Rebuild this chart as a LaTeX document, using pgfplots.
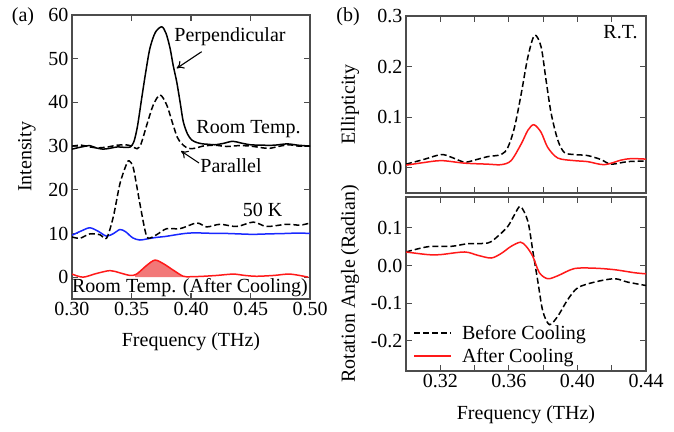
\documentclass[border=0pt]{standalone}
\usepackage{fontspec}
\setmainfont{Liberation Serif}
\usepackage{pgfplots}
\pgfplotsset{compat=1.18}
\usetikzlibrary{arrows.meta}
\definecolor{myred}{RGB}{255,25,25}
\definecolor{myblue}{RGB}{25,40,255}
\definecolor{myfill}{RGB}{242,120,120}
\newcommand{\fs}{\rmfamily\fontsize{20}{24}\selectfont}
\tikzset{ln/.style={line width=1.5pt}, dsh/.style={line width=1.5pt, dash pattern=on 6pt off 3pt}}
\pgfplotsset{myaxis/.style={
  scale only axis,
  axis line style={black!70, line width=1.1pt},
  every tick/.style={black!70, line width=1.1pt},
  tick align=inside,
  major tick length=6pt, minor tick length=6pt,
  tick label style={font=\fs},
  label style={font=\fs},
  /pgf/number format/assume math mode=true,
}}
\begin{document}
\begin{tikzpicture}[font=\fs]
\path[use as bounding box] (0,0) rectangle (674pt,431pt);
% ---------------- panel (a)
\begin{axis}[myaxis,
  at={(72pt,132pt)}, anchor=south west, width=238pt, height=284pt,
  xmin=0.30, xmax=0.50, ymin=-5, ymax=60,
  xtick={0.30,0.35,0.40,0.45,0.50}, ytick={0,10,20,30,40,50,60},
  xticklabel style={/pgf/number format/.cd, fixed, fixed zerofill, precision=2},
  every axis y label/.style={at={(axis description cs:-0.189,0.5)}, rotate=90, anchor=center},
  every axis x label/.style={at={(axis description cs:0.5,-0.151)}, anchor=center},
  xlabel={Frequency (THz)}, ylabel={Intensity},
]
\addplot[myfill, fill=myfill, draw=none] coordinates {(0.353,0) (0.353,0.6) (0.3543,0.7) (0.358,1.4) (0.3628,2.7) (0.366,3.5) (0.3697,3.9) (0.373,3.7) (0.3767,3.1) (0.381,2.3) (0.3851,1.6) (0.389,0.9) (0.3935,0.2) (0.3935,0)};
\addplot[black, ln, smooth] coordinates {(0.300,29.3) (0.308,29.8) (0.315,30.1) (0.320,29.6) (0.326,29.3) (0.332,29.5) (0.338,29.8) (0.345,29.7) (0.349,29.8) (0.352,31.0) (0.355,34.5) (0.3586,41) (0.362,47) (0.3655,52.4) (0.370,56) (0.3754,57.3) (0.379,55.8) (0.3824,52.4) (0.385,48.5) (0.388,44.7) (0.391,39.8) (0.3935,35.6) (0.397,32.8) (0.4006,31.4) (0.405,30.8) (0.410,30.5) (0.415,30.4) (0.420,30.3) (0.427,30.6) (0.435,31.1) (0.442,30.7) (0.450,30.3) (0.460,30.2) (0.470,30.2) (0.4807,30.5) (0.490,30.2) (0.500,30.0)};
\addplot[black, dsh, smooth] coordinates {(0.300,30.0) (0.308,30.2) (0.315,29.8) (0.322,29.6) (0.330,29.8) (0.338,30.2) (0.345,30.3) (0.350,30.0) (0.3546,29.4) (0.358,30.5) (0.3628,34.8) (0.3683,39.4) (0.374,41.7) (0.3796,39.4) (0.385,34.8) (0.3885,32.0) (0.392,30.6) (0.396,29.7) (0.400,29.4) (0.405,29.6) (0.410,30.0) (0.420,30.2) (0.430,29.9) (0.440,30.1) (0.450,30.0) (0.460,29.6) (0.4664,29.5) (0.475,30.0) (0.483,30.3) (0.490,30.0) (0.500,30.0)};
\addplot[myblue, ln, smooth] coordinates {(0.300,9.6) (0.308,10.6) (0.315,11.3) (0.322,10.5) (0.329,9.4) (0.335,10.0) (0.3403,10.9) (0.345,10.4) (0.351,9.0) (0.357,8.5) (0.364,8.8) (0.371,9.1) (0.378,9.3) (0.385,9.6) (0.392,9.9) (0.399,10.1) (0.410,10.1) (0.420,10.0) (0.430,10.0) (0.440,9.9) (0.452,9.8) (0.465,9.9) (0.480,10.0) (0.490,10.1) (0.500,10.0)};
\addplot[black, dsh, smooth] coordinates {(0.300,9.2) (0.3067,8.9) (0.315,9.9) (0.3235,9.7) (0.329,8.9) (0.3347,13.8) (0.3403,21.4) (0.346,26.0) (0.3482,26.6) (0.351,25.5) (0.353,23.0) (0.357,16.9) (0.3613,10.8) (0.364,8.9) (0.371,9.7) (0.3796,11.1) (0.3908,11.1) (0.4048,12.4) (0.4132,11.5) (0.4244,12.1) (0.4384,11.6) (0.4524,12.6) (0.4636,11.6) (0.4804,12.1) (0.4916,11.9) (0.500,12.4)};
\addplot[myred, ln, smooth] coordinates {(0.300,0.7) (0.3092,0.0) (0.320,0.8) (0.3319,1.5) (0.340,1.0) (0.3487,0.4) (0.3543,0.7) (0.3628,2.7) (0.3697,3.9) (0.3767,3.1) (0.3851,1.6) (0.3935,0.2) (0.400,0.1) (0.4103,0.2) (0.422,0.4) (0.4355,0.7) (0.445,0.4) (0.4552,0.2) (0.470,0.4) (0.4832,0.7) (0.4986,0.0)};
\end{axis}
% ---------------- panel (b) top
\begin{axis}[myaxis,
  at={(406pt,238pt)}, anchor=south west, width=240pt, height=177pt,
  xmin=0.30, xmax=0.44, ymin=-0.05, ymax=0.3,
  xtick={0.32,0.36,0.40,0.44}, minor xtick={0.34,0.38,0.42}, xticklabels={},
  ytick={0,0.1,0.2,0.3},
  yticklabel style={/pgf/number format/.cd, fixed, fixed zerofill, precision=1},
  every axis y label/.style={at={(axis description cs:-0.233,0.5)}, rotate=90, anchor=center},
  ylabel={Ellipticity},
]
\addplot[black, dsh, smooth] coordinates {(0.300,0.007) (0.310,0.016) (0.3206,0.026) (0.327,0.020) (0.3342,0.011) (0.341,0.016) (0.3478,0.022) (0.3555,0.026) (0.3594,0.040) (0.3633,0.080) (0.3672,0.146) (0.3711,0.219) (0.375,0.262) (0.3788,0.239) (0.3817,0.173) (0.3847,0.107) (0.3886,0.054) (0.3924,0.030) (0.3982,0.026) (0.406,0.024) (0.4138,0.016) (0.4196,0.007) (0.4293,0.012) (0.440,0.013)};
\addplot[myred, ln, smooth] coordinates {(0.300,0.005) (0.310,0.010) (0.3206,0.014) (0.3342,0.009) (0.3478,0.007) (0.3555,0.006) (0.3613,0.014) (0.3672,0.047) (0.3711,0.074) (0.3746,0.085) (0.3788,0.070) (0.3827,0.040) (0.3886,0.019) (0.3982,0.014) (0.406,0.012) (0.4157,0.006) (0.4254,0.015) (0.4313,0.018) (0.440,0.017)};
\end{axis}
% ---------------- panel (b) bottom
\begin{axis}[myaxis,
  at={(406pt,60pt)}, anchor=south west, width=240pt, height=174pt,
  xmin=0.30, xmax=0.44, ymin=-0.28, ymax=0.182,
  xtick={0.32,0.36,0.40,0.44}, minor xtick={0.34,0.38,0.42},
  xticklabel style={/pgf/number format/.cd, fixed, fixed zerofill, precision=2},
  ytick={-0.2,-0.1,0,0.1},
  yticklabel style={/pgf/number format/.cd, fixed, fixed zerofill, precision=1},
  every axis y label/.style={at={(axis description cs:-0.233,0.5)}, rotate=90, anchor=center},
  every axis x label/.style={at={(axis description cs:0.5,-0.253)}, anchor=center},
  xlabel={Frequency (THz)}, ylabel={Rotation Angle (Radian)},
  legend style={at={(rel axis cs:0.03,0.275)}, anchor=north west, draw=none, fill=none, font=\fs, inner sep=0pt, row sep=3pt,
    /tikz/every odd column/.append style={column sep=8pt}},
  legend cell align=left,
]
\addlegendimage{legend image code/.code={\draw[black, line width=1.5pt, dash pattern=on 6pt off 3pt] (0pt,0pt) -- (37pt,0pt);}}
\addlegendentry{Before Cooling}
\addlegendimage{legend image code/.code={\draw[myred, line width=1.6pt] (0pt,0pt) -- (37pt,0pt);}}
\addlegendentry{After Cooling}
\addplot[black, dsh, smooth, forget plot] coordinates {(0.300,0.036) (0.3128,0.050) (0.3264,0.051) (0.3361,0.058) (0.3478,0.060) (0.3536,0.078) (0.3594,0.104) (0.3633,0.135) (0.3668,0.157) (0.3711,0.117) (0.374,0.038) (0.3769,-0.042) (0.3798,-0.121) (0.3837,-0.157) (0.3886,-0.134) (0.3944,-0.090) (0.4002,-0.059) (0.4099,-0.044) (0.4216,-0.035) (0.4293,-0.044) (0.440,-0.053)};
\addplot[myred, ln, smooth, forget plot] coordinates {(0.300,0.036) (0.3128,0.029) (0.320,0.029) (0.3342,0.036) (0.342,0.027) (0.3497,0.020) (0.3555,0.032) (0.3613,0.051) (0.3668,0.062) (0.3701,0.051) (0.3739,0.025) (0.3778,-0.019) (0.3827,-0.035) (0.3886,-0.027) (0.3982,-0.008) (0.4099,-0.007) (0.4216,-0.011) (0.4332,-0.019) (0.440,-0.022)};
\end{axis}
% ---------------- annotations
\node at (23pt,414pt) {(a)};
\node at (348pt,414pt) {(b)};
\node at (230pt,394pt) {Perpendicular};
\node at (248.5pt,302pt) {Room Temp.};
\node at (231pt,265pt) {Parallel};
\node at (262.5pt,221pt) {50 K};
\node at (190pt,143pt) {Room Temp. (After Cooling)};
\node at (620.5pt,399pt) {R.T.};
\draw[line width=1.1pt, -{To[length=7pt,width=9pt]}] (201.7pt,379.3pt) -- (176.7pt,362.7pt);
\draw[line width=1.1pt, -{To[length=7pt,width=9pt]}] (199pt,268pt) -- (181pt,280pt);
\end{tikzpicture}
\end{document}
